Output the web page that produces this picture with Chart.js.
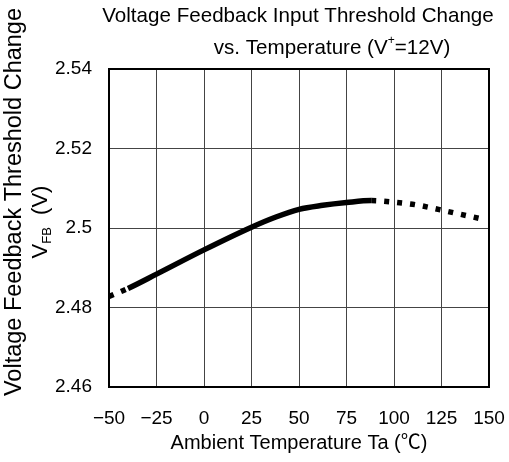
<!DOCTYPE html>
<html>
<head>
<meta charset="utf-8">
<script src="https://cdn.jsdelivr.net/npm/chart.js@4.4.0/dist/chart.umd.min.js"></script>
<style>
  html, body { margin: 0; padding: 0; background: #fff; }
  #wrap { width: 509px; height: 462px; }
</style>
</head>
<body>
<div id="wrap"><canvas id="vfbChart" width="509" height="462"></canvas></div>
<script>
// values
const temps = [-50, -40, -25, 0, 25, 37.5, 50, 62.5, 75, 88, 100, 112, 125, 145];
const vfb = [2.4828, 2.4848, 2.4884, 2.4945, 2.5002, 2.5027, 2.5047, 2.5057, 2.5064, 2.5069, 2.5065, 2.5058, 2.5045, 2.5024];
const xTicks = [-50, -25, 0, 25, 50, 75, 100, 125, 150];
const yTicks = [2.46, 2.48, 2.5, 2.52, 2.54];
const solidFrom = -40;
const solidTo = 88;

const FONT = "'Liberation Sans', Arial, 'Noto Sans CJK JP', sans-serif";

// titles, y axis title with subscript, and the plot frame
const extras = {
    id: 'extras',
    beforeDatasetsDraw(chart) {
        const a = chart.chartArea;
        const c = chart.ctx;
        c.save();
        c.strokeStyle = '#000';
        c.lineWidth = 2;
        c.strokeRect(a.left, a.top, a.right - a.left, a.bottom - a.top);
        c.restore();
    },
    afterDraw(chart) {
        const c = chart.ctx;
        c.save();
        c.fillStyle = '#000';
        c.textBaseline = 'middle';

        // main title
        c.font = '20.6px ' + FONT;
        c.textAlign = 'center';
        c.fillText('Voltage Feedback Input Threshold Change', 298, 16);

        // second line with V+ superscript
        const p1 = 'vs. Temperature (V', p2 = '+', p3 = '=12V)';
        c.font = '20.6px ' + FONT;
        const w1 = c.measureText(p1).width, w3 = c.measureText(p3).width;
        c.font = '12px ' + FONT;
        const w2 = c.measureText(p2).width;
        let x = 332 - (w1 + w2 + w3) / 2;
        c.textAlign = 'left';
        c.font = '20.6px ' + FONT;
        c.fillText(p1, x, 48);
        x += w1;
        c.font = '12px ' + FONT;
        c.fillText(p2, x, 41);
        x += w2;
        c.font = '20.6px ' + FONT;
        c.fillText(p3, x, 48);

        // y axis title, rotated
        c.translate(15, 202);
        c.rotate(-Math.PI / 2);
        c.textAlign = 'center';
        c.font = '23.5px ' + FONT;
        c.fillText('Voltage Feedback Threshold Change', 0, 0);
        c.restore();

        c.save();
        c.fillStyle = '#000';
        c.textBaseline = 'middle';
        c.translate(41, 222);
        c.rotate(-Math.PI / 2);
        const q1 = 'V', q2 = 'FB', q3 = '  (V)';
        c.font = '22px ' + FONT;
        const v1 = c.measureText(q1).width, v3 = c.measureText(q3).width;
        c.font = '13px ' + FONT;
        const v2 = c.measureText(q2).width;
        let s = -(v1 + v2 + v3) / 2;
        c.textAlign = 'left';
        c.font = '22px ' + FONT;
        c.fillText(q1, s, 0);
        s += v1;
        c.font = '13px ' + FONT;
        c.fillText(q2, s, 6);
        s += v2;
        c.font = '22px ' + FONT;
        c.fillText(q3, s, 0);
        c.restore();
    }
};

const ctx = document.getElementById('vfbChart').getContext('2d');
const vfbChart = new Chart(ctx, {
    type: 'line',
    data: {
        datasets: [{
            data: temps.map((t, i) => ({ x: t, y: vfb[i] })),
            borderColor: '#000',
            borderWidth: 5.5,
            pointRadius: 0,
            cubicInterpolationMode: 'monotone',
            borderCapStyle: 'butt',
            segment: {
                borderDash: c => (c.p1.parsed.x <= solidFrom || c.p0.parsed.x >= solidTo) ? [5, 8] : undefined
            }
        }]
    },
    options: {
        responsive: false,
        animation: false,
        layout: { padding: { left: 0, top: 69, right: 20, bottom: 0 } },
        plugins: {
            legend: { display: false },
            tooltip: { enabled: false }
        },
        scales: {
            x: {
                type: 'linear',
                min: -50,
                max: 150,
                afterBuildTicks: s => { s.ticks = xTicks.map(v => ({ value: v })); },
                afterFit: s => { s.height = 75; s.paddingLeft = 0; s.paddingRight = 0; },
                grid: { color: '#444', lineWidth: 1, drawTicks: false },
                border: { display: false },
                ticks: {
                    color: '#000',
                    padding: 20,
                    font: { size: 19, family: FONT },
                    callback: v => String(v).replace('-', '\u2212')
                },
                title: {
                    display: true,
                    text: 'Ambient Temperature Ta (\u2103)',
                    color: '#000',
                    font: { size: 20, family: FONT },
                    padding: { top: 0, bottom: 7 }
                }
            },
            y: {
                min: 2.46,
                max: 2.54,
                afterBuildTicks: s => { s.ticks = yTicks.map(v => ({ value: v })); },
                afterFit: s => { s.width = 109; s.paddingTop = 0; s.paddingBottom = 0; },
                grid: { color: '#444', lineWidth: 1, drawTicks: false },
                border: { display: false },
                ticks: {
                    color: '#000',
                    padding: 17,
                    font: { size: 19, family: FONT },
                    callback: v => String(Math.round(v * 100) / 100)
                }
            }
        }
    },
    plugins: [extras]
});
</script>
</body>
</html>
